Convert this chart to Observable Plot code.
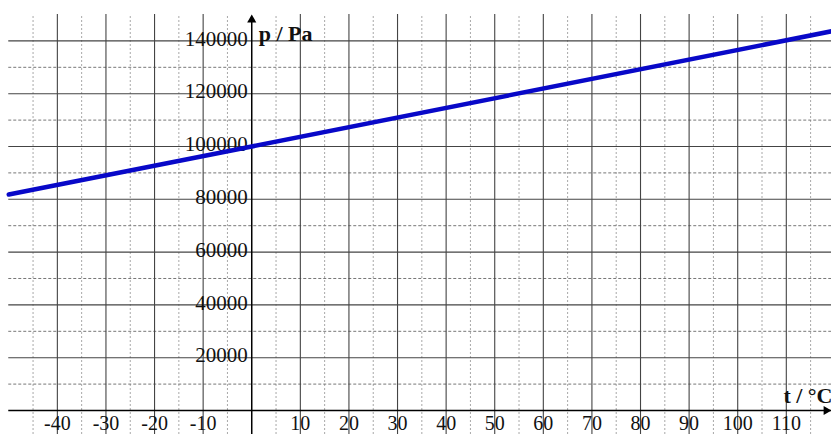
<!DOCTYPE html>
<html>
<head>
<meta charset="utf-8">
<script src="https://cdn.jsdelivr.net/npm/d3@7"></script>
<script src="https://cdn.jsdelivr.net/npm/@observablehq/plot@0.6"></script>
<style>
  html, body { margin: 0; padding: 0; background: #fff; }
  #chart svg { display: block; }
</style>
</head>
<body>
<div id="chart"></div>
<script>
// Data
const tempC = [-50, 0, 120];
const pressurePa = [81800, 100000, 143900];
const xTickLabels = [-40, -30, -20, -10, 10, 20, 30, 40, 50, 60, 70, 80, 90, 100, 110];
const yTickLabels = [20000, 40000, 60000, 80000, 100000, 120000, 140000];
const xMajorGrid = [-40, -30, -20, -10, 10, 20, 30, 40, 50, 60, 70, 80, 90, 100, 110];
const xMinorGrid = [-45, -35, -25, -15, -5, 5, 15, 25, 35, 45, 55, 65, 75, 85, 95, 105, 115];
const yMajorGrid = [20000, 40000, 60000, 80000, 100000, 120000, 140000];
const yMinorGrid = [10000, 30000, 50000, 70000, 90000, 110000, 130000];
const xAxisLabel = "t / °C";
const yAxisLabel = "p / Pa";

const series = tempC.map((t, i) => ({t, p: pressurePa[i]}));

const xDomain = [-51.7, 119.3];
const yDomain = [-9091, 155303];
const gridTop = 150000;
const gridLeft = -50;
const serif = "'Liberation Serif', 'Times New Roman', serif";

const chart = Plot.plot({
  width: 831,
  height: 434,
  margin: 0,
  x: {domain: xDomain, axis: null},
  y: {domain: yDomain, axis: null},
  style: {fontFamily: serif, background: "#fff"},
  marks: [
    // minor grid
    Plot.ruleX(xMinorGrid, {x: d => d, y1: yDomain[0], y2: gridTop, stroke: "#a8a8a8", strokeDasharray: "2,2", strokeWidth: 1}),
    Plot.ruleY(yMinorGrid, {y: d => d, x1: gridLeft, x2: xDomain[1], stroke: "#777", strokeDasharray: "3,2", strokeWidth: 1}),
    // major grid
    Plot.ruleX(xMajorGrid, {x: d => d, y1: yDomain[0], y2: gridTop, stroke: "#444", strokeWidth: 1.1}),
    Plot.ruleY(yMajorGrid, {y: d => d, x1: gridLeft, x2: xDomain[1], stroke: "#444", strokeWidth: 1.1}),
    // axes
    Plot.ruleY([0], {x1: gridLeft, x2: xDomain[1], stroke: "#000", strokeWidth: 1.5}),
    Plot.ruleX([0], {y1: yDomain[0], y2: gridTop - 2000, stroke: "#000", strokeWidth: 1.5}),
    Plot.dot([0], {x: d => d, y: () => 148000, symbol: "triangle", r: 3.4, fill: "#000", stroke: "none"}),
    Plot.dot([0], {x: () => xDomain[1], y: d => d, symbol: "triangle", r: 3.4, rotate: 90, fill: "#000", stroke: "none", dx: -5.2}),
    // tick labels
    Plot.text(xTickLabels, {x: d => d, y: () => 0, text: d => String(d), dy: 13, fontSize: 20, fill: "#111"}),
    Plot.text(yTickLabels, {x: () => 0, y: d => d, text: d => String(d), textAnchor: "end", dx: -4, dy: -2, fontSize: 21, fill: "#111"}),
    // axis labels
    Plot.text([yAxisLabel], {x: () => 0, frameAnchor: "top", textAnchor: "start", dx: 7, dy: 25, fontSize: 22, fontWeight: "bold", fill: "#111"}),
    Plot.text([xAxisLabel], {y: () => 0, frameAnchor: "right", textAnchor: "end", dx: 1, dy: -15, fontSize: 22, fontWeight: "bold", fill: "#111"}),
    // data line
    Plot.line(series, {x: "t", y: "p", stroke: "#0808c8", strokeWidth: 4.5, clip: true})
  ]
});
document.getElementById("chart").append(chart);
</script>
</body>
</html>
